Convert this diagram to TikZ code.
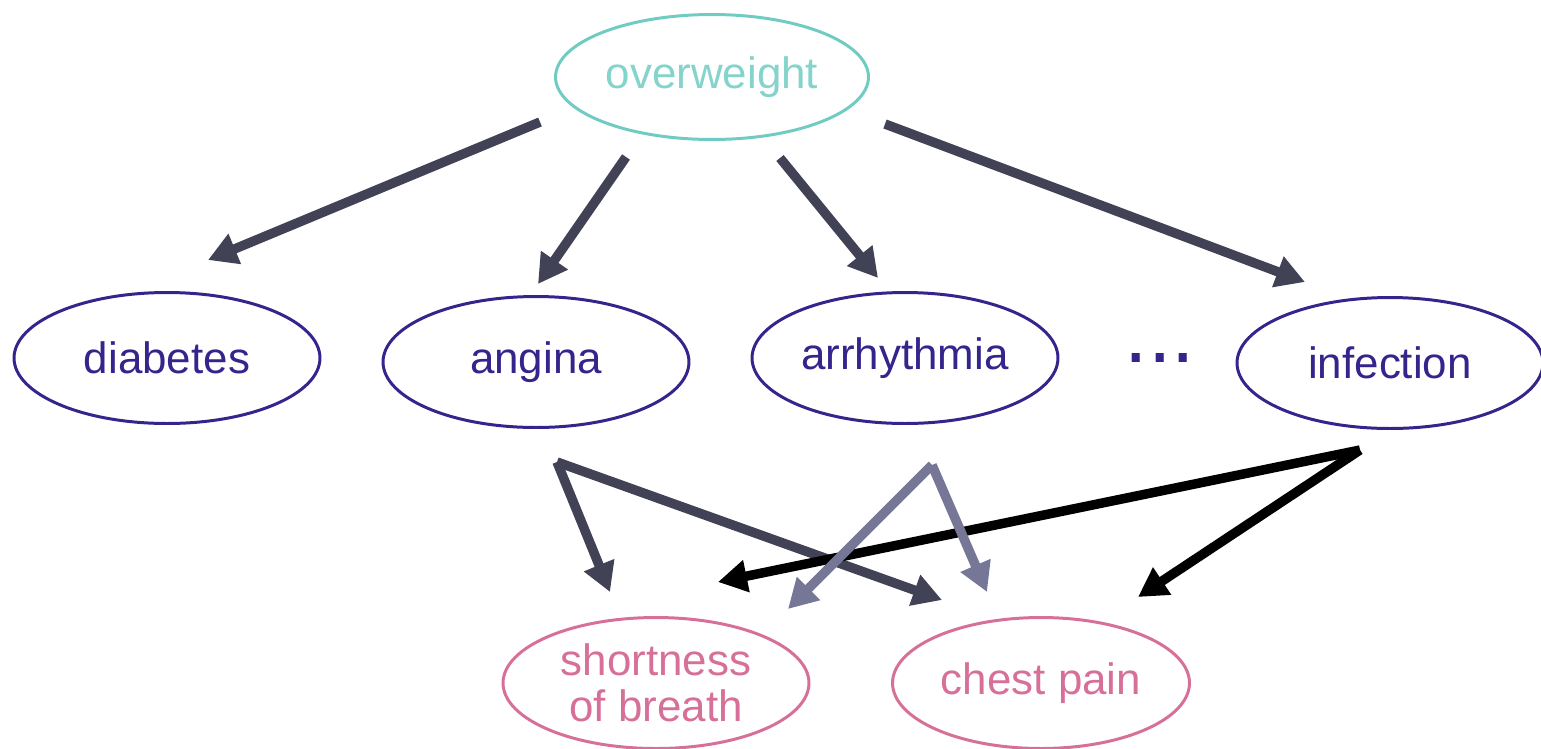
\documentclass[tikz,border=0pt]{standalone}
\usepackage{fontspec}
\setmainfont{Liberation Sans}
\usetikzlibrary{arrows.meta,shapes.geometric}
\definecolor{NetTeal}{RGB}{112,204,194}
\definecolor{NetBlue}{RGB}{52,36,140}
\definecolor{NetPink}{RGB}{214,112,152}
\definecolor{NetGrey}{RGB}{66,66,86}
\definecolor{NetLight}{RGB}{118,118,150}

\begin{document}
\begin{tikzpicture}[x=0.02cm,y=-0.02cm,
var/.style={ellipse,draw,line width=1.7pt,inner sep=0pt,
minimum width=6.12cm,minimum height=2.62cm,font=\fontsize{25}{26}\selectfont,align=center},
cause/.style={var,draw=NetTeal,text=NetTeal!85!white},
disease/.style={var,draw=NetBlue,text=NetBlue},
symptom/.style={var,draw=NetPink,text=NetPink},
arrow/.style={-{Triangle[length=0.58cm,width=0.62cm]},line width=5.4pt,draw=NetGrey,line join=miter}
]
\useasboundingbox (0,0) rectangle (1541,748);
% nodes
\node[cause,minimum width=6.26cm,minimum height=2.5cm] (ow) at (712,77) {overweight};
\node[disease] (diab) at (167,358) {diabetes};
\node[disease] (ang) at (536,362) {angina};
\node[disease] (arr) at (905,358) {arrhythmia};
\node[text=NetBlue,font=\fontsize{48}{48}\selectfont,anchor=base,inner sep=0pt] (dots) at (1160,362) {...};
\node[disease] (inf) at (1390,363) {infection};
\node[symptom] (sob) at (656,683) {shortness\\of breath};
\node[symptom,minimum width=5.94cm] (cp) at (1041,683) {chest pain};
% arrow ends
\coordinate (ow1) at (540,122); \coordinate (diab-t) at (208,260);
\coordinate (ow2) at (626,157); \coordinate (ang-t) at (538,284);
\coordinate (ow3) at (780,158); \coordinate (arr-t) at (878,278);
\coordinate (ow4) at (885,124); \coordinate (inf-t) at (1305,282);
\coordinate (ang-b) at (557,462); \coordinate (arr-b) at (932,465);
\coordinate (inf-b) at (1360,450);
\coordinate (sob1) at (610,592); \coordinate (sob2) at (718,582); \coordinate (sob3) at (788,609);
\coordinate (cp1) at (942,600); \coordinate (cp2) at (987,592); \coordinate (cp3) at (1138,597);
% overweight to diseases
\draw[arrow] (ow1)--(diab-t);
\draw[arrow] (ow2)--(ang-t);
\draw[arrow] (ow3)--(arr-t);
\draw[arrow] (ow4)--(inf-t);
% diseases to symptoms
\draw[arrow] (ang-b)--(sob1); \draw[arrow] (ang-b)--(cp1);
\draw[arrow,draw=black] (inf-b)--(sob2); \draw[arrow,draw=black] (inf-b)--(cp3);
\draw[arrow,draw=NetLight] (arr-b)--(sob3); \draw[arrow,draw=NetLight] (arr-b)--(cp2);
\end{tikzpicture}
\end{document}
